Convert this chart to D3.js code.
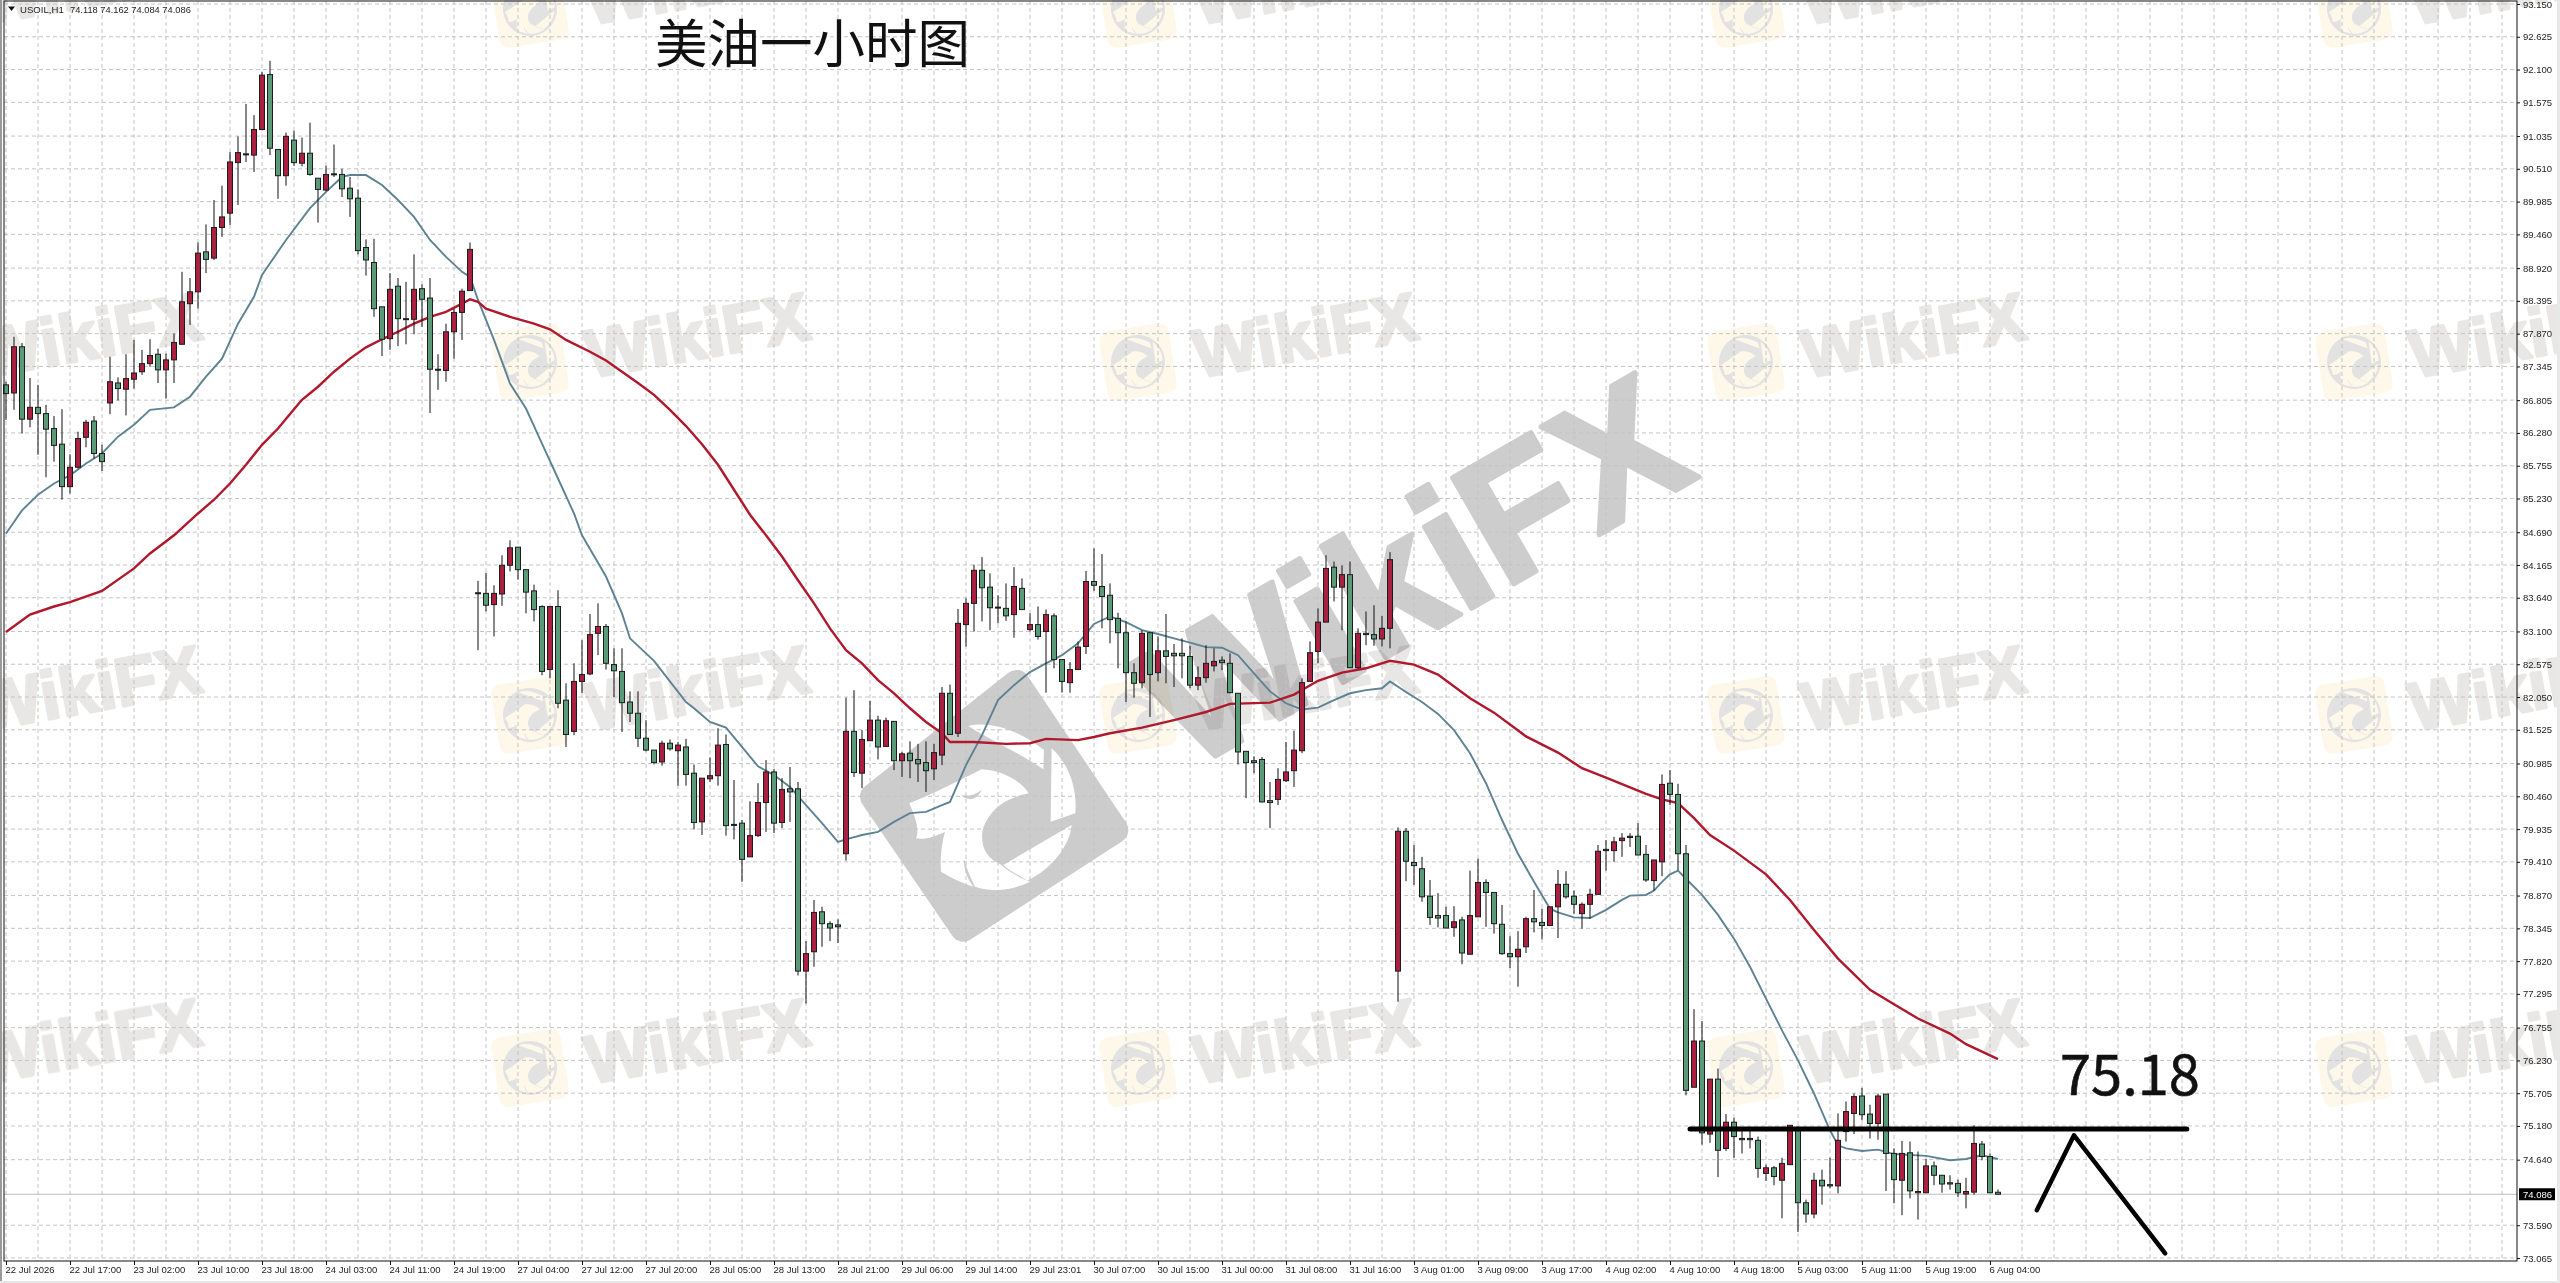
<!DOCTYPE html>
<head>
  <meta charset="utf-8">
  <style>
    body { margin: 0; background: #fff; }
    .axis text { fill: #1a1a1a; font-family: "Liberation Sans", Arial, sans-serif; font-size: 9.5px; }
    .axis line { stroke: #111; }
    .axis path { display: none; }
  </style>
</head>

<body>
  <script src="https://cdn.jsdelivr.net/npm/d3@7"></script>
  <script>
    // USOIL H1 candles, bar 0 = 22 Jul 2026
    const opens = [
      87.05,86.92,87.66,86.50,86.69,86.59,86.35,86.10,85.42,85.73,
      86.21,86.47,85.95,86.76,87.08,86.98,87.14,87.26,87.39,87.54,
      87.29,87.45,87.70,88.35,88.54,89.18,89.08,89.57,89.80,90.61,
      90.74,90.73,91.14,92.02,90.82,90.40,90.97,90.60,90.76,90.36,
      90.17,90.43,90.42,90.20,90.04,89.25,89.01,88.30,87.79,88.63,
      88.10,88.10,88.59,88.44,87.29,87.28,87.90,88.21,88.56,83.71,
      83.71,83.53,83.70,84.16,84.45,84.09,83.75,83.50,82.49,83.50,
      82.00,81.50,82.30,82.42,83.07,83.18,82.57,82.46,81.97,81.79,
      81.39,81.20,81.01,81.31,81.19,81.25,80.83,80.05,80.74,80.79,
      81.29,80.00,80.03,79.49,79.83,80.36,80.85,80.04,80.58,80.58,
      77.66,77.97,78.61,78.42,78.40,79.54,81.50,80.83,81.35,81.68,
      81.26,81.66,81.03,81.15,81.05,81.00,80.90,81.12,82.11,81.47,
      83.21,83.55,84.08,83.81,83.48,83.47,83.37,83.79,83.13,83.21,
      83.10,83.35,82.65,82.28,82.49,82.86,83.90,83.82,83.68,83.31,
      83.08,82.44,82.28,83.08,82.44,82.79,82.75,82.75,82.70,82.24,
      82.36,82.55,82.64,82.59,82.11,81.18,81.03,81.05,80.39,80.41,
      80.71,80.87,81.19,82.30,82.78,83.25,84.13,83.81,84.01,82.52,
      83.07,83.05,82.98,83.15,77.66,79.90,79.40,79.30,78.86,78.55,
      78.55,78.36,78.48,77.93,78.53,79.08,78.92,78.41,77.94,77.89,
      78.05,78.50,78.44,78.39,78.69,79.05,78.86,78.58,78.73,78.89,
      79.59,79.59,79.75,79.80,79.82,79.53,79.11,79.41,80.67,80.49,
      79.54,75.80,76.54,75.05,75.93,74.82,75.24,74.98,74.98,74.95,
      74.42,74.51,74.31,74.56,75.11,73.95,73.77,74.31,74.24,74.22,
      75.09,75.38,75.66,75.37,75.22,75.69,74.74,74.31,74.75,74.13,
      74.11,74.54,74.39,74.27,74.26,74.09,74.12,74.89,74.69,74.118
    ];
    const highs = [
      87.10,87.82,87.72,87.16,87.05,86.73,86.55,86.66,85.94,86.30,
      86.49,86.55,86.09,87.50,87.17,87.54,87.77,87.61,87.78,87.63,
      87.55,87.87,88.86,88.76,89.33,89.62,90.01,90.24,90.78,91.03,
      91.55,91.37,92.06,92.24,90.82,91.09,91.12,91.01,91.25,90.36,
      90.56,90.90,90.51,90.38,90.18,89.38,89.39,88.30,88.84,88.76,
      88.70,89.14,88.66,88.76,87.54,88.03,88.27,88.59,89.33,83.91,
      84.04,83.84,84.32,84.56,84.45,84.09,83.85,83.52,83.50,83.76,
      82.27,82.59,82.96,83.38,83.55,83.22,82.83,82.83,82.14,82.14,
      81.68,81.20,81.35,81.37,81.33,81.38,80.97,80.75,81.08,81.55,
      81.45,80.72,80.08,80.38,80.67,81.04,80.90,80.75,80.93,80.69,
      78.14,78.80,78.69,78.46,78.49,82.04,82.16,81.52,81.99,81.75,
      81.72,81.66,81.17,81.34,81.30,81.34,81.30,82.21,82.25,83.46,
      83.63,84.17,84.29,84.03,83.68,83.87,84.13,83.95,83.39,83.50,
      83.45,83.39,82.65,82.61,82.94,84.07,84.43,84.34,83.87,83.40,
      83.26,82.59,83.12,83.08,83.02,83.38,82.90,82.99,82.87,82.54,
      82.88,82.83,82.70,82.75,82.11,81.18,81.10,81.09,80.69,80.91,
      81.33,81.51,82.35,82.94,83.47,84.32,84.22,84.16,84.22,83.15,
      83.42,83.52,83.35,84.37,79.96,79.95,79.68,79.49,79.12,78.91,
      78.69,78.70,78.53,79.27,79.46,79.13,78.92,78.72,78.22,78.30,
      78.53,78.96,78.66,78.69,79.28,79.26,78.95,78.76,78.98,79.68,
      79.76,79.81,79.87,79.87,80.03,79.68,79.44,80.81,80.88,80.66,
      79.68,77.05,76.86,75.93,76.10,75.37,75.31,75.14,75.14,75.01,
      74.56,74.54,74.67,75.19,75.17,74.00,74.43,74.48,74.67,75.38,
      75.57,75.70,75.79,75.52,75.70,75.69,74.82,74.94,74.93,74.77,
      74.65,74.61,74.39,74.39,74.32,74.35,75.19,74.94,74.74,74.162
    ];
    const lows = [
      86.49,86.65,86.27,86.37,85.93,85.57,85.82,85.21,85.31,85.71,
      86.05,85.87,85.67,86.58,86.80,86.56,86.99,87.21,87.34,87.08,
      86.83,87.08,87.70,88.01,88.27,88.84,89.05,89.42,89.61,89.93,
      90.62,90.46,91.13,90.73,90.03,90.24,90.56,90.55,90.40,89.65,
      90.15,90.38,90.06,89.74,89.14,88.80,88.14,87.51,87.61,87.67,
      87.70,87.86,87.98,86.60,86.97,87.10,87.47,87.77,88.56,82.80,
      83.42,83.02,83.51,84.06,83.93,83.39,83.26,82.40,82.35,81.87,
      81.25,81.44,82.11,82.40,82.72,82.49,82.05,81.49,81.65,81.25,
      81.18,80.97,80.95,81.19,80.63,80.63,79.93,79.84,80.69,80.63,
      79.83,79.77,79.09,79.49,79.81,79.89,79.87,79.95,80.05,77.59,
      77.14,77.73,78.05,78.14,78.11,79.43,80.77,80.59,81.35,81.05,
      81.26,80.88,80.77,80.75,80.69,80.53,80.72,80.96,81.45,81.41,
      82.86,83.10,83.26,83.12,83.23,83.27,83.00,83.45,83.10,82.97,
      82.12,82.51,82.12,82.12,82.49,82.74,83.75,83.15,82.91,82.51,
      81.97,82.04,82.19,81.73,82.30,82.27,82.21,82.35,82.19,82.16,
      82.28,82.46,82.48,82.11,80.97,80.43,80.83,80.36,79.95,80.32,
      80.69,80.61,81.15,82.30,82.59,83.25,83.58,83.12,82.52,82.50,
      82.88,82.87,82.86,82.83,77.17,79.10,79.04,78.77,78.40,78.36,
      78.35,78.21,77.77,77.93,78.53,78.37,78.26,77.92,77.71,77.41,
      77.95,78.28,78.17,78.39,78.19,78.82,78.58,78.34,78.50,78.89,
      79.27,79.41,79.49,79.65,79.52,79.09,78.95,79.18,80.32,79.28,
      75.67,75.80,74.88,74.91,74.36,74.78,74.67,74.74,74.82,74.35,
      74.30,74.23,73.70,74.56,73.48,73.63,73.70,73.92,74.18,74.10,
      74.93,75.05,75.27,74.98,74.96,74.14,73.94,73.75,74.02,73.68,
      74.11,74.23,74.11,74.16,74.04,73.86,74.08,74.63,74.11,74.084
    ];
    const closes = [
      86.91,87.66,86.50,86.69,86.59,86.34,86.08,85.42,85.73,86.19,
      86.45,85.95,85.82,87.10,86.99,87.15,87.24,87.39,87.52,87.29,
      87.45,87.73,88.38,88.54,89.16,89.06,89.57,89.74,90.62,90.77,
      90.75,91.14,92.01,90.84,90.40,91.03,90.61,90.76,90.42,90.18,
      90.42,90.42,90.19,90.03,89.20,89.05,88.27,87.78,88.58,88.11,
      88.11,88.58,88.42,87.30,87.30,87.90,88.21,88.55,89.22,83.72,
      83.52,83.71,84.16,84.44,84.09,83.73,83.45,82.46,83.50,81.95,
      81.45,82.30,82.41,83.05,83.18,82.59,82.47,81.96,81.79,81.39,
      81.20,81.00,81.31,81.22,81.28,80.81,80.04,80.75,80.79,81.28,
      79.99,80.01,79.45,79.83,80.36,80.85,80.03,80.57,80.53,77.66,
      77.94,78.60,78.42,78.35,78.37,81.50,80.84,81.37,81.68,81.25,
      81.67,81.03,81.14,81.03,80.98,80.87,81.16,82.11,81.45,83.23,
      83.55,84.08,83.80,83.48,83.49,83.35,83.82,83.45,83.21,83.02,
      83.37,82.65,82.30,82.49,82.85,83.90,83.84,83.66,83.29,83.08,
      82.44,82.27,83.07,82.41,82.79,82.70,82.71,82.71,82.24,82.36,
      82.59,82.62,82.60,82.12,81.17,81.00,81.00,80.37,80.36,80.73,
      80.85,81.20,82.28,82.76,83.25,84.11,83.81,84.01,82.52,83.07,
      83.05,82.98,83.15,84.25,79.90,79.42,79.35,78.85,78.52,78.51,
      78.35,78.45,77.95,78.55,79.08,78.92,78.42,77.94,77.89,78.01,
      78.50,78.45,78.39,78.69,79.05,78.85,78.73,78.73,78.89,79.58,
      79.61,79.73,79.79,79.82,79.52,79.12,79.44,80.65,80.49,79.54,
      75.75,76.54,75.07,75.93,74.79,75.24,75.01,74.96,74.96,74.50,
      74.51,74.37,74.58,75.19,73.95,73.77,74.31,74.22,74.22,74.95,
      75.41,75.65,75.36,75.22,75.66,74.74,74.32,74.74,74.14,74.11,
      74.54,74.39,74.25,74.25,74.11,74.13,74.90,74.69,74.11,74.086
    ];

    // moving averages, read at the bars where the line bends
    const fastBars = [0,2,4,6,8,10,12,14,16,18,21,23,25,27,29,31,32,35,38,40,42,43,45,47,49,51,53,55,57,58,59,61,63,65,67,69,71,72,75,77,78,81,85,86,88,90,92,94,96,98,100,102,104,105,107,109,111,113,115,117,118,120,122,124,126,128,130,132,134,136,138,140,142,144,146,148,150,152,154,156,158,160,162,164,166,168,170,172,173,175,177,179,181,183,185,187,189,191,193,194,196,198,200,202,203,205,206,207,208,209,210,212,214,216,218,220,222,224,226,228,229,230,232,234,236,240,243,245,247,249];
    const fastValues = [84.67,85.04,85.29,85.47,85.60,85.79,85.95,86.22,86.41,86.65,86.69,86.86,87.18,87.47,88.03,88.46,88.81,89.37,89.88,90.14,90.38,90.41,90.41,90.25,90.01,89.74,89.37,89.10,88.86,88.78,88.41,87.77,87.07,86.67,86.11,85.55,84.99,84.64,83.98,83.39,82.99,82.63,81.97,81.87,81.65,81.56,81.25,80.94,80.80,80.61,80.32,80.03,79.73,79.77,79.84,79.89,80.05,80.19,80.21,80.32,80.37,80.96,81.44,82.00,82.24,82.45,82.59,82.72,82.91,83.22,83.34,83.25,83.12,83.06,82.99,82.92,82.85,82.84,82.72,82.43,82.14,81.95,81.85,81.88,82.00,82.11,82.16,82.19,82.30,82.13,81.97,81.78,81.52,81.15,80.67,80.08,79.54,79.09,78.66,78.60,78.52,78.51,78.64,78.80,78.87,78.88,78.95,79.09,79.21,79.27,79.14,78.88,78.56,78.18,77.73,77.22,76.71,76.23,75.70,75.11,74.87,74.82,74.78,74.80,74.73,74.70,74.63,74.65,74.71,74.65];
    const slowBars = [0,3,6,8,12,16,18,21,24,26,28,30,32,34,36,37,39,41,43,45,47,49,51,53,55,57,58,59,60,63,66,68,70,73,75,77,79,81,83,85,87,89,91,93,95,97,99,101,103,105,107,109,111,113,115,117,118,121,125,128,130,134,136,138,142,146,150,153,158,161,164,167,170,173,176,179,183,186,190,194,197,200,205,207,209,211,213,216,220,223,226,229,233,236,239,243,245,249];
    const slowValues = [83.09,83.37,83.50,83.57,83.75,84.11,84.35,84.64,84.99,85.21,85.47,85.77,86.09,86.35,86.66,86.81,87.02,87.26,87.47,87.65,87.78,87.90,88.03,88.14,88.22,88.35,88.42,88.38,88.27,88.14,88.03,87.94,87.77,87.58,87.44,87.26,87.08,86.89,86.65,86.39,86.10,85.77,85.37,84.97,84.64,84.30,83.92,83.55,83.15,82.80,82.59,82.32,82.11,81.87,81.65,81.47,81.33,81.33,81.30,81.31,81.38,81.36,81.41,81.47,81.56,81.68,81.81,81.94,81.96,82.09,82.31,82.44,82.51,82.63,82.57,82.41,82.03,81.80,81.42,81.16,80.91,80.76,80.50,80.41,80.35,80.11,79.84,79.59,79.21,78.80,78.32,77.86,77.36,77.13,76.90,76.66,76.49,76.25];

    const yTicks = [93.150,92.625,92.100,91.575,91.035,90.510,89.985,89.460,88.920,88.395,87.870,87.345,86.805,86.280,85.755,85.230,84.690,84.165,83.640,83.100,82.575,82.050,81.525,80.985,80.460,79.935,79.410,78.870,78.345,77.820,77.295,76.755,76.230,75.705,75.180,74.640,73.590,73.065];
    const xTickLabels = ["22 Jul 2026","22 Jul 17:00","23 Jul 02:00","23 Jul 10:00","23 Jul 18:00","24 Jul 03:00","24 Jul 11:00","24 Jul 19:00","27 Jul 04:00","27 Jul 12:00","27 Jul 20:00","28 Jul 05:00","28 Jul 13:00","28 Jul 21:00","29 Jul 06:00","29 Jul 14:00","29 Jul 23:01","30 Jul 07:00","30 Jul 15:00","31 Jul 00:00","31 Jul 08:00","31 Jul 16:00","3 Aug 01:00","3 Aug 09:00","3 Aug 17:00","4 Aug 02:00","4 Aug 10:00","4 Aug 18:00","5 Aug 03:00","5 Aug 11:00","5 Aug 19:00","6 Aug 04:00"];

    const bidPrice = 74.086;
    const levelPrice = 75.13;
    const levelBars = [210.5, 272.6];
    const pathBars = [253.85, 258.5, 269.9];
    const pathPrices = [73.83, 75.03, 73.14];

    const width = 2560, height = 1283;
    const plot = {left: 4, right: 2517, top: 1, bottom: 1261};

    const svg = d3.select("body").append("svg")
      .attr("width", width).attr("height", height)
      .style("display", "block");

    const x = d3.scaleLinear().domain([0, 249]).range([6, 1998]);
    const y = d3.scaleLinear().domain([73.065, 93.15]).range([1258, 4]);

    svg.append("rect").attr("width", width).attr("height", height).attr("fill", "#fff");

    //-----------------------------WATERMARKS-----------------------------//
    const eagleShapes = [
      "M385,258 C460,240 550,280 612,330 L610,388 C550,345 450,300 385,258Z",
      "M635,325 C690,375 712,450 706,520 L632,545Z",
      "M208,490 C280,462 360,420 425,388 C490,390 550,430 566,460 C500,472 445,510 428,570 C420,620 440,655 480,672 C500,690 540,715 570,725 C550,735 510,750 470,750 C440,750 420,745 405,740 C385,700 375,670 372,655 C370,690 385,720 400,740 C370,730 335,715 303,695 C300,650 305,610 315,575 C285,590 255,600 228,595 C240,570 225,530 208,490Z",
      "M695,555 C690,620 630,690 562,722 C535,705 505,690 490,675Z"
    ];
    const marks = svg.append("g").attr("id", "watermarks");

    const bigLogo = marks.append("g").attr("transform", "translate(840,640) scale(0.3333)");
    bigLogo.append("path")
      .attr("d", "M530,130 L825,570 L370,865 L100,470Z")
      .attr("fill", "#cccccc").attr("stroke", "#cccccc")
      .attr("stroke-width", 80).attr("stroke-linejoin", "round");
    bigLogo.selectAll("path.white").data(eagleShapes).enter().append("path")
      .attr("class", "white").attr("d", d => d).attr("fill", "#fff");
    bigLogo.append("path")
      .attr("d", "M362,465 C385,470 410,465 425,448 C420,465 405,478 390,478 C378,476 368,470 362,465Z")
      .attr("fill", "#cccccc");

    marks.append("text")
      .attr("transform", "translate(1188,772) rotate(-30)")
      .attr("font-family", "'Liberation Sans', Arial, sans-serif")
      .attr("font-weight", "bold").attr("font-size", 178)
      .attr("fill", "#cdcdcd").attr("stroke", "#cdcdcd").attr("stroke-width", 5)
      .attr("stroke-linejoin", "round")
      .text("WikiFX");

    // small repeated logos and names
    const smallMarks = marks.append("g").style("mix-blend-mode", "multiply");
    d3.range(5).forEach(col => d3.range(4).forEach(row => {
      const cx = -78 + col * 608, cy = 9 + row * 353;
      const tile = smallMarks.append("g").attr("transform", `translate(${cx},${cy}) rotate(-9)`);
      tile.append("rect").attr("x", -35).attr("y", -35).attr("width", 70).attr("height", 70)
        .attr("rx", 9).attr("fill", "#fdf8ea");
      tile.append("circle").attr("r", 27).attr("fill", "#e3e2e3");
      tile.append("g").attr("transform", "scale(0.1) translate(-460,-500)")
        .selectAll("path").data(eagleShapes).enter().append("path")
        .attr("d", d => d).attr("fill", "#fdf8ea");
      smallMarks.append("text")
        .attr("transform", `translate(${cx + 60},${cy + 16}) rotate(-10)`)
        .attr("font-family", "'Liberation Sans', Arial, sans-serif")
        .attr("font-weight", "bold").attr("font-size", 68)
        .attr("fill", "#e9e7e6").attr("stroke", "#e9e7e6").attr("stroke-width", 3)
        .attr("stroke-linejoin", "round")
        .text("WikiFX");
    }));

    //-----------------------------GRID-----------------------------//
    const grid = svg.append("g").attr("id", "grid")
      .attr("stroke", "#c4c4c4").attr("stroke-dasharray", "4,3");
    grid.selectAll("line.h").data(yTicks).enter().append("line")
      .attr("class", "h")
      .attr("x1", plot.left).attr("x2", plot.right)
      .attr("y1", d => y(d)).attr("y2", d => y(d));
    grid.selectAll("line.v").data(d3.range(0, 313, 4)).enter().append("line")
      .attr("class", "v")
      .attr("x1", d => x(d)).attr("x2", d => x(d))
      .attr("y1", plot.top).attr("y2", plot.bottom);

    svg.append("line")
      .attr("x1", plot.left).attr("x2", plot.right)
      .attr("y1", y(bidPrice)).attr("y2", y(bidPrice))
      .attr("stroke", "#bcbcbc");

    //-----------------------------MOVING AVERAGES-----------------------------//
    const line = d3.line().x(d => x(d[0])).y(d => y(d[1]));
    svg.append("path")
      .attr("d", line(fastBars.map((b, i) => [b, fastValues[i]])))
      .attr("fill", "none").attr("stroke", "#5d8294").attr("stroke-width", 1.9);
    svg.append("path")
      .attr("d", line(slowBars.map((b, i) => [b, slowValues[i]])))
      .attr("fill", "none").attr("stroke", "#b0182c").attr("stroke-width", 2.4);

    //-----------------------------CANDLES-----------------------------//
    const candles = svg.append("g").attr("id", "candles");
    const bars = candles.selectAll("g").data(opens).enter().append("g");
    bars.append("line")
      .attr("x1", (d, i) => x(i)).attr("x2", (d, i) => x(i))
      .attr("y1", (d, i) => y(highs[i])).attr("y2", (d, i) => y(lows[i]))
      .attr("stroke", "#111");
    bars.append("rect")
      .attr("x", (d, i) => x(i) - 2.5).attr("width", 5)
      .attr("y", (d, i) => y(Math.max(d, closes[i])))
      .attr("height", (d, i) => Math.max(1, y(Math.min(d, closes[i])) - y(Math.max(d, closes[i]))))
      .attr("fill", (d, i) => closes[i] >= d ? "#ab1f40" : "#5a9a78")
      .attr("stroke", "#1c1c1c");

    //-----------------------------FRAME AND AXES-----------------------------//
    svg.append("rect").attr("x", plot.left).attr("y", plot.top)
      .attr("width", plot.right - plot.left).attr("height", plot.bottom - plot.top)
      .attr("fill", "none").attr("stroke", "#111");
    svg.append("rect").attr("width", 2).attr("height", height).attr("fill", "#9a9a9a");
    svg.append("rect").attr("y", 1281).attr("width", width).attr("height", 2).attr("fill", "#e8e8e8");
    svg.append("rect").attr("x", 2557).attr("width", 3).attr("height", height).attr("fill", "#e8e8e8");

    svg.append("g").attr("class", "axis")
      .attr("transform", "translate(" + plot.right + ",0)")
      .call(d3.axisRight(y).tickValues(yTicks).tickFormat(d3.format(".3f")).tickSize(3).tickPadding(3));

    const xAxis = svg.append("g").attr("class", "axis")
      .attr("transform", "translate(0," + plot.bottom + ")")
      .call(d3.axisBottom(x)
        .tickValues(xTickLabels.map((d, i) => i * 8))
        .tickFormat((d, i) => xTickLabels[i]).tickSize(4).tickPadding(1));
    xAxis.selectAll("text").attr("text-anchor", "start").attr("dx", -1);

    // current price tag
    svg.append("rect").attr("x", 2519).attr("y", y(bidPrice) - 6).attr("width", 36).attr("height", 12).attr("fill", "#000");
    svg.append("text").attr("x", 2523).attr("y", y(bidPrice) + 3.5)
      .attr("font-family", "'Liberation Sans', Arial, sans-serif").attr("font-size", 9.5)
      .attr("fill", "#fff").text(bidPrice.toFixed(3));

    // header
    svg.append("path").attr("d", "M8,6.5 L15,6.5 L11.5,11Z").attr("fill", "#111");
    svg.append("text").attr("x", 20).attr("y", 12.5)
      .attr("font-family", "'Liberation Sans', Arial, sans-serif").attr("font-size", 9.6).attr("fill", "#222")
      .text("USOIL,H1");
    svg.append("text").attr("x", 70).attr("y", 12.5)
      .attr("font-family", "'Liberation Sans', Arial, sans-serif").attr("font-size", 9.3).attr("fill", "#222")
      .text("74.118 74.162 74.084 74.086");

    //-----------------------------ANNOTATIONS-----------------------------//
    svg.append("text").attr("x", 655).attr("y", 63)
      .attr("font-family", "'Noto Sans CJK SC', sans-serif").attr("font-size", 52.5).attr("fill", "#111")
      .text("美油一小时图");
    svg.append("text").attr("x", 2060).attr("y", 1095)
      .attr("font-family", "'Noto Sans CJK SC', sans-serif").attr("font-size", 56).attr("fill", "#111")
      .attr("stroke", "#111").attr("stroke-width", 0.6)
      .text("75.18");
    svg.append("line")
      .attr("x1", x(levelBars[0])).attr("x2", x(levelBars[1]))
      .attr("y1", y(levelPrice)).attr("y2", y(levelPrice))
      .attr("stroke", "#000").attr("stroke-width", 5).attr("stroke-linecap", "round");
    svg.append("path")
      .attr("d", line(pathBars.map((b, i) => [b, pathPrices[i]])))
      .attr("fill", "none").attr("stroke", "#000").attr("stroke-width", 4.5)
      .attr("stroke-linecap", "round").attr("stroke-linejoin", "round");
  </script>
</body>
